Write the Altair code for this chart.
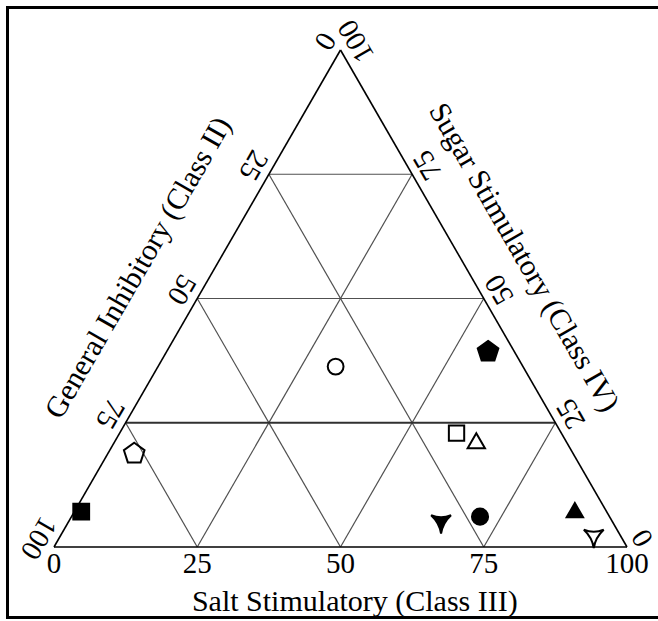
import altair as alt
import pandas as pd

# ---- data (percent composition of each response profile) ----
groups = ["A", "B", "C", "D", "E", "F", "G", "H", "I", "J"]
salt = [31.0, 56.0, 58.8, 63.0, 4.5, 1.2, 65.2, 71.3, 87.2, 93.3]
sugar = [36.3, 39.5, 22.9, 21.4, 19.0, 7.1, 4.7, 6.1, 7.4, 1.8]
general = [32.7, 4.5, 18.3, 15.6, 76.5, 91.7, 30.1, 22.6, 5.4, 4.9]

grid_ticks = [25, 50, 75]
tick_values = [0, 25, 50, 75, 100]

salt_title = "Salt Stimulatory (Class III)"
general_title = "General Inhibitory (Class II)"
sugar_title = "Sugar Stimulatory (Class IV)"

# ---- marker styling, one entry per group ----
PENTAGON = "M0,-0.905L0.951,-0.214L0.588,0.905L-0.588,0.905L-0.951,-0.214Z"
TRISTAR = "M-0.95,-0.8Q0,-0.4 0.95,-0.8Q0.16,-0.08 0,0.95Q-0.16,-0.08 -0.95,-0.8Z"
shape_style = ["circle", PENTAGON, "square", "triangle-up", PENTAGON,
               "square", TRISTAR, "circle", "triangle-up", TRISTAR]
fill_style = ["transparent", "black", "transparent", "transparent", "transparent",
              "black", "black", "black", "black", "transparent"]
size_style = [250, 470, 235, 300, 470, 250, 440, 260, 270, 440]

W, H = 573, 497
H3 = 3 ** 0.5 / 2
FONT = "Liberation Serif"

xs = alt.Scale(domain=[0, 1], nice=False, zero=False)
ys = alt.Scale(domain=[0, H3], nice=False, zero=False)


def to_xy(chart):
    # ternary (salt, sugar) -> cartesian position inside the unit triangle
    return chart.transform_calculate(
        px="(datum.salt + datum.sugar / 2) / 100",
        py=f"datum.sugar / 100 * {H3}",
    )


# ---- grid segments and triangle edges, in ternary coordinates ----
seg_rows = []
for t in grid_ticks:
    seg_rows.append(dict(s1=0, u1=t, s2=100 - t, u2=t, kind="bold" if t == 25 else "grid"))
    seg_rows.append(dict(s1=t, u1=0, s2=t, u2=100 - t, kind="grid"))
    seg_rows.append(dict(s1=100 - t, u1=0, s2=0, u2=100 - t, kind="grid"))
for a, b in [((0, 0), (100, 0)), ((0, 0), (0, 100)), ((100, 0), (0, 100))]:
    seg_rows.append(dict(s1=a[0], u1=a[1], s2=b[0], u2=b[1], kind="edge"))
segs = pd.DataFrame(seg_rows)

seg_base = alt.Chart(segs).transform_calculate(
    x1="(datum.s1 + datum.u1 / 2) / 100",
    y1=f"datum.u1 / 100 * {H3}",
    x2="(datum.s2 + datum.u2 / 2) / 100",
    y2=f"datum.u2 / 100 * {H3}",
)


def seg_layer(kind, color, width):
    return seg_base.transform_filter(f"datum.kind == '{kind}'").mark_rule(
        color=color, strokeWidth=width
    ).encode(
        x=alt.X("x1:Q", scale=xs, axis=None), y=alt.Y("y1:Q", scale=ys, axis=None),
        x2="x2:Q", y2="y2:Q",
    )


grid = seg_layer("grid", "#505050", 1.2)
grid_bold = seg_layer("bold", "#303030", 2.0)
edges = seg_layer("edge", "black", 1.6)

# ---- tick labels on the three sides ----
tick_text = [str(v) for v in tick_values]
bottom_ticks = pd.DataFrame({"salt": tick_values, "sugar": [0] * 5, "label": tick_text})
left_ticks = pd.DataFrame({"salt": [0] * 5, "sugar": [100 - v for v in tick_values], "label": tick_text})
right_ticks = pd.DataFrame({"salt": [100 - v for v in tick_values], "sugar": tick_values, "label": tick_text})


def text_layer(df, angle, dy, size, baseline="middle"):
    return to_xy(alt.Chart(df)).mark_text(
        font=FONT, fontSize=size, color="black", align="center",
        baseline=baseline, angle=angle, dy=dy,
    ).encode(
        x=alt.X("px:Q", scale=xs, axis=None),
        y=alt.Y("py:Q", scale=ys, axis=None),
        text="label:N",
    )


ticks_b = text_layer(bottom_ticks, 0, 17, 29)
ticks_l = text_layer(left_ticks, 120, 18, 29)
ticks_r = text_layer(right_ticks, 240, 18, 29)

# ---- side titles ----
title_b = text_layer(pd.DataFrame({"salt": [52.5], "sugar": [0], "label": [salt_title]}),
                     0, 64, 30, baseline="alphabetic")
title_l = text_layer(pd.DataFrame({"salt": [0], "sugar": [49.5], "label": [general_title]}),
                     300, -66, 30)
title_r = text_layer(pd.DataFrame({"salt": [47.3], "sugar": [52.7], "label": [sugar_title]}),
                     60, -55, 30)

# ---- data points ----
pts = pd.DataFrame({"group": groups, "salt": salt, "sugar": sugar, "general": general,
                    "shape": shape_style, "fill": fill_style, "size": size_style})
points = to_xy(alt.Chart(pts)).mark_point(
    filled=True, stroke="black", strokeWidth=2.0, opacity=1
).encode(
    x=alt.X("px:Q", scale=xs, axis=None),
    y=alt.Y("py:Q", scale=ys, axis=None),
    shape=alt.Shape("shape:N", scale=None),
    fill=alt.Fill("fill:N", scale=None),
    size=alt.Size("size:Q", scale=None),
)

# ---- figure frame ----
frame = alt.Chart(pd.DataFrame({"f": [0]})).mark_rect(
    filled=False, stroke="black", strokeWidth=3
).encode(
    x=alt.value(-46.5), x2=alt.value(612),
    y=alt.value(-42.5), y2=alt.value(567.5),
)

chart = alt.layer(
    grid, grid_bold, edges, ticks_b, ticks_l, ticks_r, title_b, title_l, title_r, points, frame
).properties(
    width=W, height=H,
    background="white",
    autosize=alt.AutoSizeParams(type="none"),
    padding={"left": 54, "top": 50, "right": 31, "bottom": 74},
).configure_view(stroke="transparent", strokeWidth=0)

chart.save("out.html", embed_options={"renderer": "svg", "actions": False})
